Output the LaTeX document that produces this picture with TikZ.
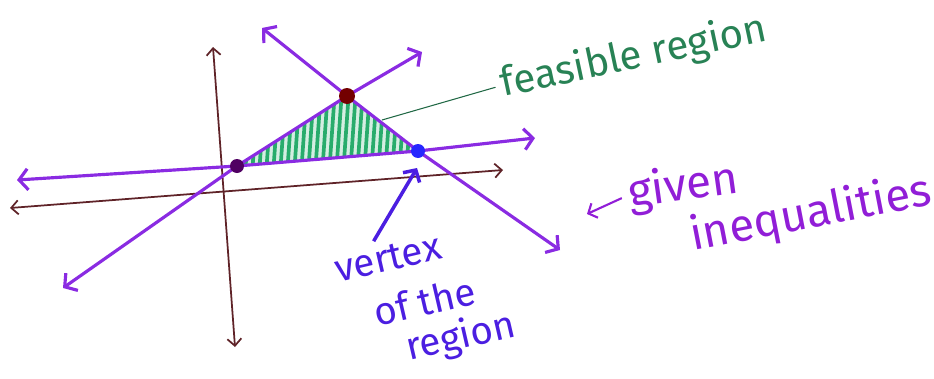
\documentclass[tikz,border=0pt]{standalone}
\usepackage{fontspec}
\setmainfont{Fira Sans}
\usetikzlibrary{arrows.meta}
\definecolor{linepurple}{RGB}{138,43,226}
\definecolor{axisbrown}{RGB}{95,35,40}
\definecolor{hatchgreen}{RGB}{40,172,108}
\definecolor{labelgreen}{RGB}{40,130,85}
\definecolor{vertexblue}{RGB}{75,30,225}
\definecolor{givenpurple}{RGB}{145,30,215}

\begin{document}
\begin{tikzpicture}[x=0.02cm,y=-0.02cm,
    axis/.style={draw=axisbrown, line width=1pt,
      {Straight Barb[length=4pt,width=8pt]}-{Straight Barb[length=4pt,width=8pt]}},
    ineq/.style={draw=linepurple, line width=1.8pt, line join=round,
      {Straight Barb[length=5pt,width=12pt]}-{Straight Barb[length=5pt,width=12pt]}},
    hand/.style={inner sep=0pt, font=\fontsize{#1}{#1}\selectfont},
    hand/.default=22]
  \useasboundingbox (0,0) rectangle (934,379);
  % vertices of the region
  \coordinate (A) at (237,166);
  \coordinate (B) at (347,96);
  \coordinate (C) at (418,151);
  % axes
  \coordinate (xl) at (10,208);
  \coordinate (xr) at (503,170);
  \coordinate (yt) at (213,47);
  \coordinate (yb) at (235,347);
  \draw[axis] (xl) -- (xr);
  \draw[axis] (yt) -- (yb);
  % shaded feasible region
  \begin{scope}
    \clip (A) -- (B) -- (C) -- cycle;
    \fill[hatchgreen!20] (A) -- (B) -- (C) -- cycle;
    \foreach \x in {238,245,...,420}
      \draw[hatchgreen, line width=2.1pt] (\x,175) -- ++(6,-85);
  \end{scope}
  % the three boundary lines
  \coordinate (l1a) at (17,180);
  \coordinate (l1b) at (535,138);
  \coordinate (l2a) at (63,288);
  \coordinate (l2b) at (422,52);
  \coordinate (l3a) at (262,28);
  \coordinate (l3b) at (560,250);
  \draw[ineq] (l1a) -- (A) -- (C) -- (l1b);
  \draw[ineq] (l2a) -- (A) -- (B) -- (l2b);
  \draw[ineq] (l3a) -- (B) -- (C) -- (l3b);
  % corner points
  \fill[purple!60!blue!70!black] (A) circle (7);
  \fill[red!45!black] (B) circle (8);
  \fill[blue!85!white] (C) circle (7);
  % labels
  \node[hand=23, text=labelgreen, rotate=12, anchor=base west] (feas) at (503,97) {feasible region};
  \coordinate (fpt) at (382,120);
  \draw[labelgreen!80!black, line width=0.6pt, shorten >=3pt] (fpt) -- (feas.west);
  \node[hand=26, text=givenpurple, rotate=8, anchor=base west] (given) at (630,208) {given};
  \node[hand=26, text=givenpurple, rotate=11, anchor=base west] (ineqs) at (693,251) {inequalities};
  \coordinate (gtip) at (587,214);
  \draw[givenpurple, line width=1.2pt, shorten <=4pt,
    -{Straight Barb[length=4pt,width=9pt]}] (given.west) -- (gtip);
  \node[hand, text=vertexblue, rotate=13, anchor=base west] (vtx1) at (338,283) {vertex};
  \node[hand, text=vertexblue, rotate=13, anchor=base west] (vtx2) at (377,327) {of the};
  \node[hand, text=vertexblue, rotate=13, anchor=base west] (vtx3) at (409,361) {region};
  \coordinate (ctip) at (417,168);
  \draw[vertexblue, line width=2pt, shorten <=3pt,
    -{Straight Barb[length=5pt,width=11pt]}] ([xshift=-8pt]vtx1.north) -- (ctip);
\end{tikzpicture}
\end{document}
